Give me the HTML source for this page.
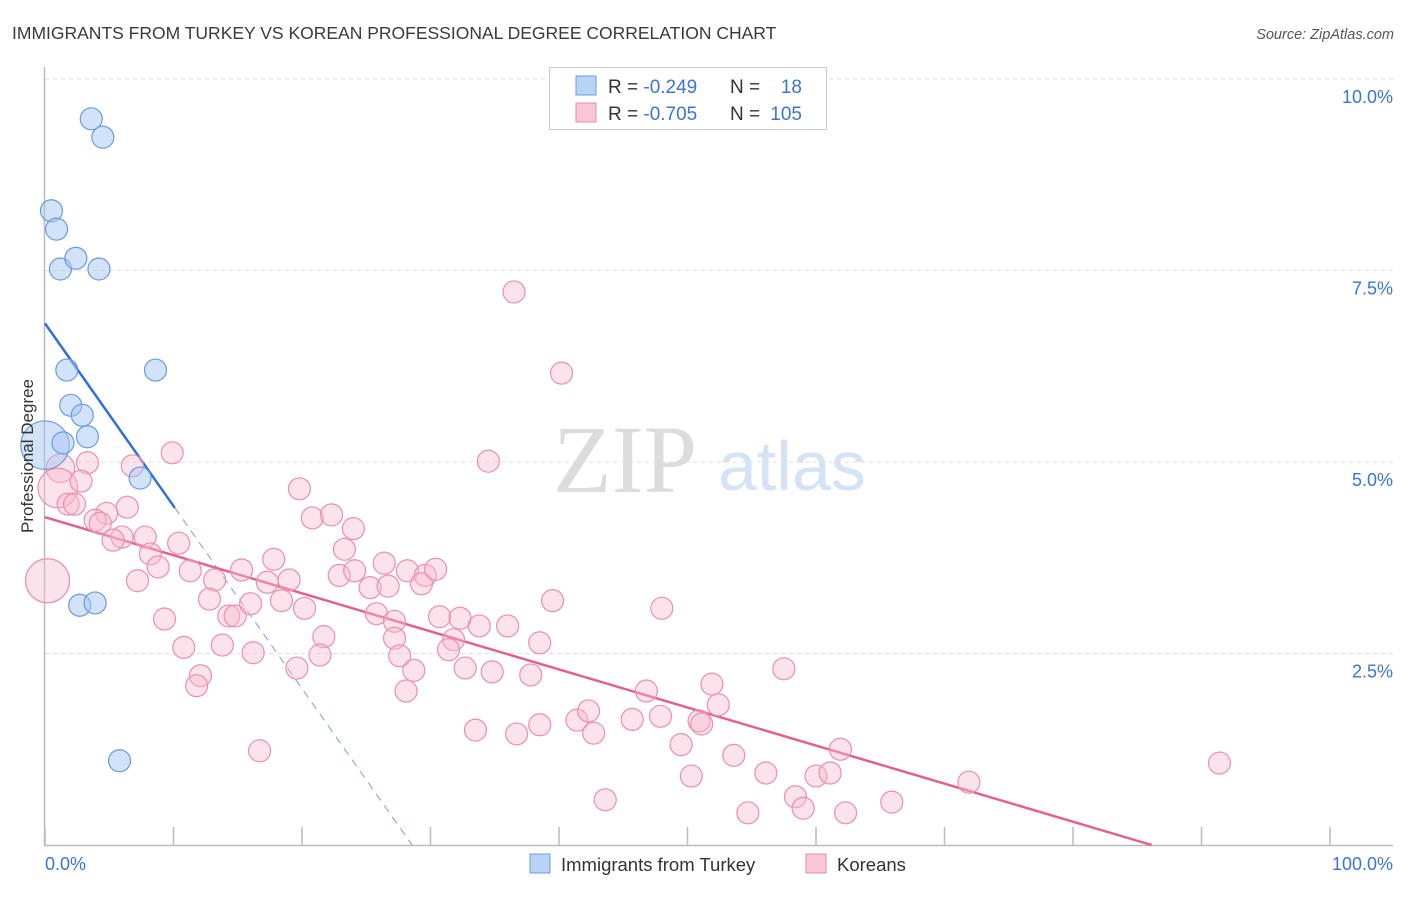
<!DOCTYPE html>
<html><head><meta charset="utf-8"><style>
body{margin:0;background:#fff;font-family:"Liberation Sans",sans-serif}
</style></head><body>
<svg id="chart" width="1406" height="892" xmlns="http://www.w3.org/2000/svg" font-family="Liberation Sans, sans-serif">
<text x="12" y="39" font-size="17.5" fill="#3a3a3a">IMMIGRANTS FROM TURKEY VS KOREAN PROFESSIONAL DEGREE CORRELATION CHART</text>
<text x="1394" y="39" font-size="14.5" fill="#555" font-style="italic" text-anchor="end">Source: ZipAtlas.com</text>
<g>
<text x="553" y="492" font-size="96" font-family="Liberation Serif, serif" fill="#dcdcdc">ZIP</text>
<text x="718" y="490" font-size="70" fill="#d4e3f5">atlas</text>
</g>
<g id="grid"></g>
<g id="axes"></g>
<g id="trend"></g>
<g id="pts"></g>
<text transform="translate(33,456) rotate(-90)" font-size="17" fill="#333" text-anchor="middle">Professional Degree</text>
<g>
<rect x="549.5" y="67.5" width="277" height="62" fill="#fff" stroke="#ccc"/>
<rect x="576" y="76" width="20" height="19" fill="#b9d3f5" stroke="#6a9be0"/>
<rect x="576" y="103" width="20" height="19" fill="#f9c6d5" stroke="#e88aa8"/>
<text x="608" y="93" font-size="19" fill="#333">R = <tspan fill="#3b74d1">-0.249</tspan></text>
<text x="730" y="93" font-size="19" fill="#333">N = </text><text x="802" y="93" font-size="19" fill="#3b74d1" text-anchor="end">18</text>
<text x="608" y="120" font-size="19" fill="#333">R = <tspan fill="#3b74d1">-0.705</tspan></text>
<text x="730" y="120" font-size="19" fill="#333">N = </text><text x="802" y="120" font-size="19" fill="#3b74d1" text-anchor="end">105</text>
</g>
<g>
<rect x="530" y="854" width="20" height="19" fill="#b9d3f5" stroke="#6a9be0"/>
<text x="561" y="871" font-size="18.5" fill="#333">Immigrants from Turkey</text>
<rect x="806" y="854" width="20" height="19" fill="#f9c6d5" stroke="#e88aa8"/>
<text x="837" y="871" font-size="18.5" fill="#333">Koreans</text>
</g>
</svg>
<script>
const pinkX=[36.5,40.2,34.5,9.9,6.8,3.3,2.8,1.8,2.3,6.4,4.8,3.9,4.3,6.0,5.3,7.8,10.4,8.2,7.2,8.8,11.3,13.2,12.8,14.3,14.8,16.0,15.3,17.8,17.3,19.0,18.4,20.2,19.8,20.8,22.3,24.0,23.3,22.9,24.1,26.4,25.3,26.7,25.8,27.2,28.2,29.6,29.3,30.4,30.7,32.3,31.8,31.4,33.8,36.0,32.7,34.8,37.8,38.5,39.5,48.0,27.2,27.6,21.7,21.4,19.6,16.2,13.8,10.8,9.3,12.1,11.8,16.7,28.1,28.7,33.5,36.7,38.5,41.4,42.3,42.7,45.7,46.8,47.9,51.9,52.4,50.9,51.1,49.5,53.6,57.5,43.6,50.3,56.1,54.7,58.4,59.0,60.0,61.1,61.9,62.3,65.9,71.9,91.4];
const pinkY=[7.22,6.16,5.01,5.12,4.95,4.99,4.75,4.45,4.45,4.41,4.33,4.24,4.20,4.02,3.98,4.02,3.94,3.80,3.45,3.63,3.58,3.46,3.21,2.99,2.99,3.15,3.59,3.73,3.43,3.46,3.19,3.09,4.65,4.27,4.31,4.13,3.86,3.52,3.58,3.68,3.36,3.38,3.02,2.92,3.58,3.52,3.41,3.60,2.98,2.96,2.68,2.55,2.86,2.86,2.31,2.26,2.22,2.64,3.19,3.09,2.70,2.47,2.72,2.48,2.31,2.51,2.61,2.58,2.95,2.21,2.08,1.23,2.01,2.28,1.50,1.45,1.57,1.63,1.75,1.46,1.64,2.01,1.68,2.10,1.83,1.62,1.58,1.31,1.17,2.30,0.59,0.90,0.94,0.42,0.63,0.48,0.90,0.94,1.25,0.42,0.56,0.82,1.07];
const pinkBigX=[1.2,1.0,0.2];
const pinkBigY=[4.92,4.66,3.45];
const pinkBigW=[1.3,1.8,2.0];
const blueX=[3.6,4.5,0.5,0.9,1.2,2.4,4.2,1.7,8.6,2.0,2.9,1.4,3.3,7.4,2.7,3.9,5.8];
const blueY=[9.48,9.24,8.28,8.04,7.52,7.66,7.52,6.20,6.20,5.74,5.61,5.25,5.33,4.79,3.13,3.16,1.10];
const blueBigX=[0.0];
const blueBigY=[5.22];
const blueBigW=[2.2];
const yTicks=[2.5,5.0,7.5,10.0];
const yTickLabels=["2.5%","5.0%","7.5%","10.0%"];
const xTicks=[0,10,20,30,40,50,60,70,80,90,100];
const blueTrend=[6.81,-0.2384]; // intercept, slope
const blueSolidEnd=10.1;
const pinkTrend=[4.28,-0.0497];

const NS="http://www.w3.org/2000/svg";
const X=v=>45+v*12.85, Y=v=>845-v*76.6;
function mk(tag,attrs,parent){const e=document.createElementNS(NS,tag);for(const k in attrs)e.setAttribute(k,attrs[k]);parent.appendChild(e);return e;}
const grid=document.getElementById('grid'),axes=document.getElementById('axes'),trend=document.getElementById('trend'),pts=document.getElementById('pts');
let g0=mk('line',{x1:45,x2:1393,y1:79,y2:79,stroke:'#ddd','stroke-dasharray':'4,4'},grid);


yTicks.forEach((t,i)=>{
 const l=mk('line',{x1:45,x2:1393,y1:Y(t),y2:Y(t),stroke:'#ddd','stroke-dasharray':'4,4'},grid);
 
 
 const tx=mk('text',{x:1393,y:Y(t)+24,'font-size':18,fill:'#3b74d1','text-anchor':'end'},axes);
 tx.textContent=yTickLabels[i];
 
 
});
let ya=mk('line',{x1:44.5,x2:44.5,y1:67,y2:846,stroke:'#bbb','stroke-width':1.5},axes);


let xa=mk('line',{x1:44,x2:1393,y1:845.5,y2:845.5,stroke:'#bbb','stroke-width':1.5},axes);


xTicks.forEach(t=>{
 const l=mk('line',{x1:X(t),x2:X(t),y1:827,y2:845,stroke:'#bbb','stroke-width':1.5},axes);
 
 
});
let xl0=mk('text',{x:45,y:870,'font-size':18,fill:'#3b74d1'},axes);xl0.textContent='0.0%';


let xl1=mk('text',{x:1393,y:870,'font-size':18,fill:'#3b74d1','text-anchor':'end'},axes);xl1.textContent='100.0%';


function dot(x,y,r,fill,stroke){const c=mk('circle',{cx:X(x),cy:Y(y),r:r,fill:fill,stroke:stroke,'stroke-width':1.2},pts);return c;}
const PF='rgba(248,185,205,0.42)',PS='#e890ad',BF='rgba(165,198,242,0.5)',BS='#6a9be0';
pinkBigX.forEach((x,i)=>{const c=dot(x,pinkBigY[i],11*pinkBigW[i],PF,PS);
 
 });
blueBigX.forEach((x,i)=>{const c=dot(x,blueBigY[i],11*blueBigW[i],BF,BS);
 
 });
pinkX.forEach((x,i)=>{const c=dot(x,pinkY[i],11,PF,PS);
 
 });
blueX.forEach((x,i)=>{const c=dot(x,blueY[i],11,BF,BS);
 
 });
const bz=-blueTrend[0]/blueTrend[1];
let bl=mk('line',{x1:X(0),y1:Y(blueTrend[0]),x2:X(blueSolidEnd),y2:Y(blueTrend[0]+blueTrend[1]*blueSolidEnd),stroke:'#2f6fd6','stroke-width':2.5},trend);


let bd=mk('line',{x1:X(blueSolidEnd),y1:Y(blueTrend[0]+blueTrend[1]*blueSolidEnd),x2:X(bz),y2:Y(0),stroke:'#7a9fd8','stroke-width':1,'stroke-dasharray':'8,6'},trend);


const pz=-pinkTrend[0]/pinkTrend[1];
let pl=mk('line',{x1:X(0),y1:Y(pinkTrend[0]),x2:X(pz),y2:Y(0),stroke:'#e4608c','stroke-width':2.5},trend);


</script>
</body></html>
